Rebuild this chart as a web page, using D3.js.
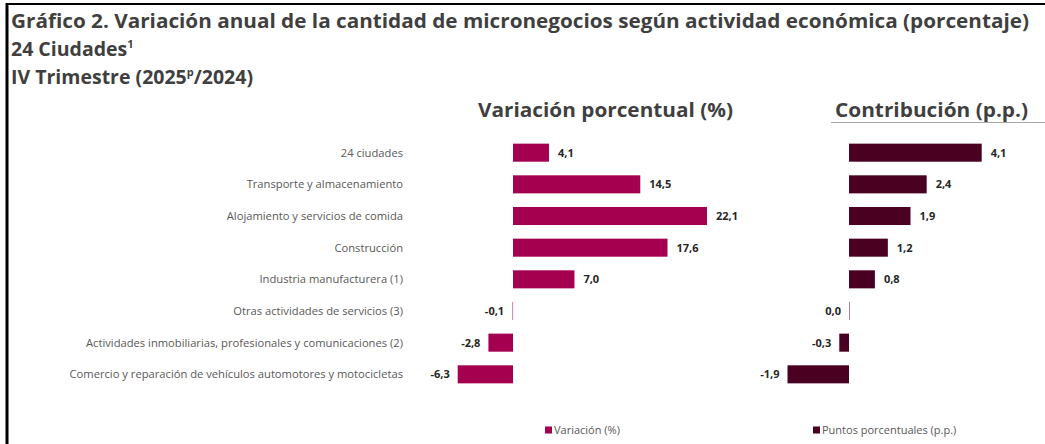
<!DOCTYPE html>
<html><head><meta charset="utf-8">
<script src="https://cdn.jsdelivr.net/npm/d3@7"></script>
<style>body{margin:0;background:#fff;} svg{display:block;font-family:"Open Sans",sans-serif;}</style>
</head><body><svg id="c" width="1045" height="444"></svg>
<script>
const categories = ["24 ciudades","Transporte y almacenamiento","Alojamiento y servicios de comida","Construcción","Industria manufacturera (1)","Otras actividades de servicios (3)","Actividades inmobiliarias, profesionales y comunicaciones (2)","Comercio y reparación de vehículos automotores y motocicletas"];
const variacion = [4.1,14.5,22.1,17.6,7.0,-0.1,-2.8,-6.3];
const contribucion = [4.1,2.4,1.9,1.2,0.8,0.0,-0.3,-1.9];
const seriesNames = ["Variación (%)","Puntos porcentuales (p.p.)"];
const colors = ["#A4004F","#4A0021"];

const svg = d3.select("#c");
const fmt = v => d3.format(".1f")(v).replace(".", ",").replace("−","-");

// frame
svg.append("line").attr("x1",7).attr("x2",7).attr("y1",3).attr("y2",444).attr("stroke","#000").attr("stroke-width",3);
svg.append("line").attr("x1",6).attr("x2",1045).attr("y1",4).attr("y2",4).attr("stroke","#000").attr("stroke-width",2);

// titles
const tcol="#3f3f3f";
svg.append("text").attr("x",11).attr("y",28).attr("font-size",19.5).attr("font-weight",700).attr("fill",tcol)
  .attr("textLength",1018).attr("lengthAdjust","spacingAndGlyphs")
  .text("Gráfico 2. Variación anual de la cantidad de micronegocios según actividad económica (porcentaje)");
const t2=svg.append("text").attr("x",11).attr("y",56).attr("font-size",19.5).attr("font-weight",700).attr("fill",tcol);
t2.append("tspan").text("24 Ciudades");
t2.append("tspan").attr("font-size",11).attr("dy",-8).text("1");
const t3=svg.append("text").attr("x",11).attr("y",84).attr("font-size",19.5).attr("font-weight",700).attr("fill",tcol);
t3.append("tspan").text("IV Trimestre (2025");
t3.append("tspan").attr("font-size",11).attr("dy",-8).text("p");
t3.append("tspan").attr("dy",8).text("/2024)");

svg.append("text").attr("x",478).attr("y",117).attr("font-size",19).attr("font-weight",700).attr("fill",tcol)
  .attr("textLength",255).attr("lengthAdjust","spacingAndGlyphs").text("Variación porcentual (%)");
svg.append("text").attr("x",835).attr("y",117).attr("font-size",19).attr("font-weight",700).attr("fill",tcol)
  .attr("textLength",193).attr("lengthAdjust","spacingAndGlyphs").text("Contribución (p.p.)");
svg.append("line").attr("x1",831).attr("x2",1045).attr("y1",122.5).attr("y2",122.5).attr("stroke","#a6a6a6").attr("stroke-width",1);

// scales
const y = d3.scaleBand().domain(categories).range([137,390]).paddingInner(0.43).paddingOuter(0.21);
const x1 = d3.scaleLinear().domain([0,22.1]).range([513,707]);
const x2 = d3.scaleLinear().domain([0,4.1]).range([849,981.7]);

// category labels
svg.append("g").selectAll("text").data(categories).join("text")
  .attr("x",403).attr("y",d=>y(d)+y.bandwidth()/2).attr("dy","0.35em")
  .attr("text-anchor","end").attr("font-size",11.2).attr("fill","#595959").text(d=>d);

function panel(vals,x,color){
  const g=svg.append("g");
  g.selectAll("rect").data(vals).join("rect")
    .attr("x",d=>x(Math.min(0,d))).attr("y",(d,i)=>y(categories[i]))
    .attr("width",d=>Math.max(1,Math.abs(x(d)-x(0)))).attr("height",y.bandwidth())
    .attr("fill",color).attr("opacity",(d)=>Math.abs(x(d)-x(0))<1?0.5:1);
  g.selectAll("text").data(vals).join("text")
    .attr("x",d=>d>0?x(d)+9:x(Math.min(0,d))-8)
    .attr("y",(d,i)=>y(categories[i])+y.bandwidth()/2).attr("dy","0.35em")
    .attr("text-anchor",d=>d>0?"start":"end")
    .attr("font-size",11).attr("font-weight",700).attr("fill","#262626").text(fmt);
}
panel(variacion,x1,colors[0]);
panel(contribucion,x2,colors[1]);

// legend
const lx=[545,813];
seriesNames.forEach((n,i)=>{
  svg.append("rect").attr("x",lx[i]).attr("y",426.5).attr("width",7).attr("height",7).attr("fill",colors[i]);
  svg.append("text").attr("x",lx[i]+9).attr("y",430).attr("dy","0.35em").attr("font-size",11).attr("fill","#595959").text(n);
});
</script></body></html>
